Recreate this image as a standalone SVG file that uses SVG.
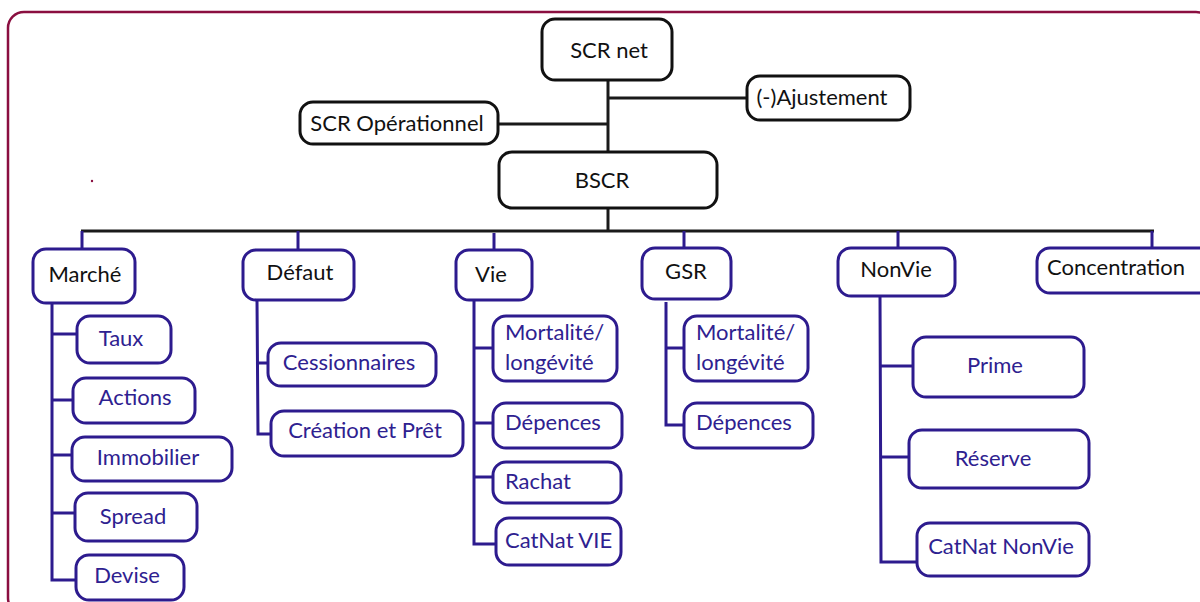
<svg xmlns="http://www.w3.org/2000/svg" width="1200" height="602" viewBox="0 0 1200 602">
  <style>
    .frame { fill: none; stroke: #8a0f40; stroke-width: 2.5; }
    .top { fill: #fff; stroke: #111; stroke-width: 3; }
    .cat { fill: #fff; stroke: #2d1b8e; stroke-width: 3; }
    .leaf { fill: #fff; stroke: #2d1b8e; stroke-width: 3; }
    .lk { fill: none; stroke: #1a1a1a; stroke-width: 3; }
    .lp { fill: none; stroke: #2d1b8e; stroke-width: 3; }
    text { font-family: Lato, "Liberation Sans", sans-serif; font-size: 22px; }
    .tb { fill: #111; }
    .tp { fill: #2e2190; }
    .m { text-anchor: middle; }
  </style>

  <!-- outer frame -->
  <rect class="frame" x="8" y="12" width="1204" height="602" rx="16"/>
  <circle cx="92" cy="181" r="1.2" fill="#8a0f40"/>

  <!-- connectors -->
  <g id="connectors">
    <line class="lk" x1="608" y1="80" x2="608" y2="152"/>
    <line class="lk" x1="608" y1="98" x2="747" y2="98"/>
    <line class="lk" x1="498" y1="124" x2="608" y2="124"/>
    <line class="lk" x1="608" y1="208" x2="608" y2="231"/>
    <line class="lk" x1="81" y1="231" x2="1154" y2="231"/>
    <line class="lp" x1="82" y1="231" x2="82" y2="249"/>
    <line class="lp" x1="298" y1="231" x2="298" y2="250"/>
    <line class="lp" x1="494" y1="233" x2="494" y2="250"/>
    <line class="lp" x1="684" y1="231" x2="684" y2="248"/>
    <line class="lp" x1="898" y1="231" x2="898" y2="248"/>
    <line class="lp" x1="1152" y1="231" x2="1152" y2="248"/>
    <!-- Marché -->
    <polyline class="lp" points="52,303 52,580 76,580"/>
    <line class="lp" x1="52" y1="334" x2="77" y2="334"/>
    <line class="lp" x1="52" y1="400" x2="73" y2="400"/>
    <line class="lp" x1="52" y1="455" x2="72" y2="455"/>
    <line class="lp" x1="52" y1="513" x2="75" y2="513"/>
    <!-- Défaut -->
    <polyline class="lp" points="257,300 258,434 271,434"/>
    <line class="lp" x1="257" y1="363" x2="268" y2="363"/>
    <!-- Vie -->
    <polyline class="lp" points="474,300 474,544 496,544"/>
    <line class="lp" x1="474" y1="348" x2="493" y2="348"/>
    <line class="lp" x1="474" y1="423" x2="493" y2="423"/>
    <line class="lp" x1="474" y1="477" x2="493" y2="477"/>
    <!-- GSR -->
    <polyline class="lp" points="666,302 666,425 684,425"/>
    <line class="lp" x1="666" y1="348" x2="684" y2="348"/>
    <!-- NonVie -->
    <polyline class="lp" points="880,296 881,562 917,562"/>
    <line class="lp" x1="880" y1="366" x2="913" y2="366"/>
    <line class="lp" x1="880" y1="457" x2="909" y2="457"/>
  </g>

  <!-- upper level -->
  <g id="scr-net"><rect class="top" x="542" y="19" width="130" height="61" rx="13"/><text class="tb m" x="609" y="58">SCR net</text></g>
  <g id="ajustement"><rect class="top" x="747" y="76" width="163" height="44" rx="13"/><text class="tb m" x="822" y="105">(-)Ajustement</text></g>
  <g id="scr-op"><rect class="top" x="300" y="102" width="198" height="42" rx="13"/><text class="tb m" x="397" y="131">SCR Opérationnel</text></g>
  <g id="bscr"><rect class="top" x="499" y="152" width="218" height="56" rx="13"/><text class="tb m" x="602" y="188">BSCR</text></g>

  <!-- Marché -->
  <g id="marche"><rect class="cat" x="33" y="249" width="102" height="54" rx="13"/><text class="tb m" x="85" y="282">Marché</text></g>
  <g id="taux"><rect class="leaf" x="77" y="316" width="94" height="47" rx="13"/><text class="tp m" x="121" y="346">Taux</text></g>
  <g id="actions"><rect class="leaf" x="73" y="378" width="122" height="45" rx="13"/><text class="tp m" x="135" y="405">Actions</text></g>
  <g id="immobilier"><rect class="leaf" x="72" y="437" width="160" height="44" rx="13"/><text class="tp m" x="148" y="465">Immobilier</text></g>
  <g id="spread"><rect class="leaf" x="75" y="493" width="122" height="48" rx="13"/><text class="tp m" x="133" y="524">Spread</text></g>
  <g id="devise"><rect class="leaf" x="76" y="555" width="108" height="45" rx="13"/><text class="tp m" x="127" y="583">Devise</text></g>

  <!-- Défaut -->
  <g id="defaut"><rect class="cat" x="243" y="250" width="111" height="50" rx="13"/><text class="tb m" x="300" y="280">Défaut</text></g>
  <g id="cessionnaires"><rect class="leaf" x="268" y="343" width="168" height="43" rx="13"/><text class="tp m" x="349" y="370">Cessionnaires</text></g>
  <g id="creation-pret"><rect class="leaf" x="271" y="411" width="192" height="45" rx="13"/><text class="tp m" x="365" y="438">Création et Prêt</text></g>

  <!-- Vie -->
  <g id="vie"><rect class="cat" x="456" y="250" width="76" height="50" rx="13"/><text class="tb m" x="491" y="282">Vie</text></g>
  <g id="vie-mortalite"><rect class="leaf" x="493" y="316" width="124" height="65" rx="13"/><text class="tp" x="505" y="340">Mortalité/</text><text class="tp" x="505" y="370">longévité</text></g>
  <g id="vie-depences"><rect class="leaf" x="493" y="403" width="129" height="45" rx="13"/><text class="tp" x="505" y="430">Dépences</text></g>
  <g id="rachat"><rect class="leaf" x="493" y="462" width="128" height="41" rx="13"/><text class="tp" x="505" y="489">Rachat</text></g>
  <g id="catnat-vie"><rect class="leaf" x="496" y="518" width="125" height="47" rx="13"/><text class="tp" x="505" y="548">CatNat VIE</text></g>

  <!-- GSR -->
  <g id="gsr"><rect class="cat" x="642" y="248" width="89" height="51" rx="13"/><text class="tb m" x="686" y="279">GSR</text></g>
  <g id="gsr-mortalite"><rect class="leaf" x="684" y="316" width="124" height="65" rx="13"/><text class="tp" x="696" y="340">Mortalité/</text><text class="tp" x="696" y="370">longévité</text></g>
  <g id="gsr-depences"><rect class="leaf" x="684" y="403" width="129" height="45" rx="13"/><text class="tp" x="696" y="430">Dépences</text></g>

  <!-- NonVie -->
  <g id="nonvie"><rect class="cat" x="838" y="248" width="117" height="48" rx="13"/><text class="tb m" x="896" y="277">NonVie</text></g>
  <g id="prime"><rect class="leaf" x="913" y="337" width="171" height="60" rx="13"/><text class="tp m" x="995" y="373">Prime</text></g>
  <g id="reserve"><rect class="leaf" x="909" y="430" width="180" height="58" rx="13"/><text class="tp m" x="993" y="466">Réserve</text></g>
  <g id="catnat-nonvie"><rect class="leaf" x="917" y="523" width="172" height="53" rx="13"/><text class="tp m" x="1001" y="554">CatNat NonVie</text></g>

  <!-- Concentration -->
  <g id="concentration"><rect class="cat" x="1037" y="248" width="175" height="45" rx="13"/><text class="tb" x="1047" y="275">Concentration</text></g>
</svg>
